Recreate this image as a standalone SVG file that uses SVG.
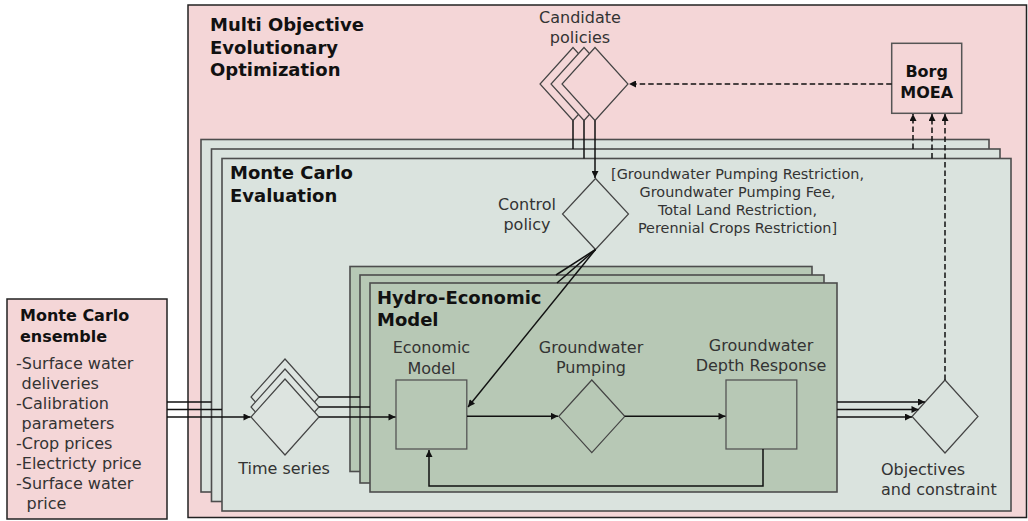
<svg xmlns="http://www.w3.org/2000/svg" width="1028" height="521" viewBox="0 0 1028 521">
<defs>
<style>
.t{font-family:"DejaVu Sans","Liberation Sans",sans-serif;font-size:16px;fill:#333}
.b{font-family:"DejaVu Sans","Liberation Sans",sans-serif;font-weight:bold;fill:#111}
.s{font-family:"DejaVu Sans","Liberation Sans",sans-serif;font-size:14.4px;fill:#333}
.pink{fill:#f4d6d7;stroke:#222;stroke-width:1.5}
.mc{fill:#dae3de;stroke:#4d4d4d;stroke-width:1.6}
.he{fill:#b7c8b5;stroke:#4d4d4d;stroke-width:1.6}
.dm{stroke:#444;stroke-width:1.2}
.ln{fill:none;stroke:#111;stroke-width:1.5}
.ds{fill:none;stroke:#111;stroke-width:1.5;stroke-dasharray:5.5,3}
</style>
<marker id="ah" viewBox="0 0 10 10" refX="10" refY="5" markerWidth="9" markerHeight="7" markerUnits="userSpaceOnUse" orient="auto">
<path d="M0,0 L10,5 L0,10 z" fill="#111"/>
</marker>
</defs>

<g id="moeo">
<rect class="pink" x="188" y="5" width="838.5" height="512.5"/>
<text class="b" font-size="18"><tspan x="210" y="31">Multi Objective</tspan><tspan x="210" y="53.5">Evolutionary</tspan><tspan x="210" y="76">Optimization</tspan></text>
</g>

<g id="ensemble">
<rect class="pink" x="7" y="299" width="160" height="220"/>
<text class="b" font-size="16"><tspan x="20" y="321">Monte Carlo</tspan><tspan x="20" y="342">ensemble</tspan></text>
<text class="t"><tspan x="16" y="369">-Surface water</tspan><tspan x="21.5" y="389">deliveries</tspan><tspan x="16" y="409">-Calibration</tspan><tspan x="21.5" y="429">parameters</tspan><tspan x="16" y="449">-Crop prices</tspan><tspan x="16" y="469">-Electricty price</tspan><tspan x="16" y="489">-Surface water</tspan><tspan x="26.5" y="509">price</tspan></text>
</g>

<g id="candidate-policies">
<path class="dm" fill="#f4d6d7" d="M573,47.5 L606,84 L573,120.5 L540,84 Z"/>
<path class="dm" fill="#f4d6d7" d="M584,47.5 L617,84 L584,120.5 L551,84 Z"/>
<path class="dm" fill="#f4d6d7" d="M595,47.5 L628,84 L595,120.5 L562,84 Z"/>
<text class="t" text-anchor="middle"><tspan x="580" y="23">Candidate</tspan><tspan x="580" y="43">policies</tspan></text>
</g>

<g id="borg">
<rect x="891.7" y="43.3" width="70" height="70" fill="#f4d6d7" stroke="#555" stroke-width="1.5"/>
<text class="b" font-size="16" text-anchor="middle"><tspan x="926.7" y="77">Borg</tspan><tspan x="926.7" y="98">MOEA</tspan></text>
</g>

<g id="mc-evaluation">
<rect class="mc" x="201" y="139.5" width="788" height="352.5"/>
<rect class="mc" x="211.5" y="149" width="788.5" height="352.5"/>
<rect class="mc" x="222" y="158.5" width="789" height="352.5"/>
<text class="b" font-size="18"><tspan x="230" y="179">Monte Carlo</tspan><tspan x="230" y="201.5">Evaluation</tspan></text>
</g>

<g id="control-policy">
<path class="dm" fill="#dae3de" d="M595.5,178.5 L628.5,214 L595.5,249.5 L562.5,214 Z"/>
<text class="t" text-anchor="middle"><tspan x="527" y="210">Control</tspan><tspan x="527" y="230">policy</tspan></text>
<text class="s" text-anchor="middle"><tspan x="737.5" y="179">[Groundwater Pumping Restriction,</tspan><tspan x="737.5" y="197">Groundwater Pumping Fee,</tspan><tspan x="737.5" y="215">Total Land Restriction,</tspan><tspan x="737.5" y="233">Perennial Crops Restriction]</tspan></text>
</g>

<g id="hydro-economic">
<rect class="he" x="350" y="266.5" width="462" height="205"/>
<rect class="he" x="360" y="275" width="464" height="208"/>
<rect class="he" x="370" y="283" width="467" height="209"/>
<text class="b" font-size="18"><tspan x="377" y="303.5">Hydro-Economic</tspan><tspan x="377" y="326">Model</tspan></text>
</g>

<g id="time-series">
<path class="dm" fill="#dde4e0" d="M285,359 L319,397 L285,435 L251,397 Z"/>
<path class="dm" fill="#dde4e0" d="M285,369 L319,407 L285,445 L251,407 Z"/>
<path class="dm" fill="#dde4e0" d="M285,379 L319,417 L285,455 L251,417 Z"/>
<text class="t" text-anchor="middle" x="284" y="474">Time series</text>
</g>

<g id="economic-model">
<rect x="396" y="380" width="70.8" height="69" fill="#b7c8b5" stroke="#555" stroke-width="1.3"/>
<text class="t" text-anchor="middle"><tspan x="431.4" y="353">Economic</tspan><tspan x="431.4" y="374">Model</tspan></text>
</g>

<g id="groundwater-pumping">
<path class="dm" fill="#b7c8b5" d="M591.8,380 L624.8,416.3 L591.8,452.6 L558.8,416.3 Z"/>
<text class="t" text-anchor="middle"><tspan x="591" y="353">Groundwater</tspan><tspan x="591" y="373">Pumping</tspan></text>
</g>

<g id="depth-response">
<rect x="726" y="380" width="70.8" height="69" fill="#b7c8b5" stroke="#555" stroke-width="1.3"/>
<text class="t" text-anchor="middle"><tspan x="761" y="351">Groundwater</tspan><tspan x="761" y="371">Depth Response</tspan></text>
</g>

<g id="objectives">
<path class="dm" fill="#dae3de" d="M945,380 L978,416.5 L945,453 L912,416.5 Z"/>
<text class="t"><tspan x="881" y="475">Objectives</tspan><tspan x="881" y="495">and constraint</tspan></text>
</g>

<g id="connectors">
<path class="ds" d="M891.7,84 L629,84" marker-end="url(#ah)"/>
<path class="ds" d="M913,149 L913,114" marker-end="url(#ah)"/>
<path class="ds" d="M932,158.5 L932,114" marker-end="url(#ah)"/>
<path class="ds" d="M945,380 L945,114" marker-end="url(#ah)"/>
<path class="ln" d="M573,120.5 L573,149"/>
<path class="ln" d="M584,120.5 L584,158.5"/>
<path class="ln" d="M595,120.5 L595,178" marker-end="url(#ah)"/>
<path class="ln" d="M595.5,249.5 L556,275"/>
<path class="ln" d="M595.5,249.5 L557,283"/>
<path class="ln" d="M595.5,249.5 L468,407" marker-end="url(#ah)"/>
<path class="ln" d="M167,402 L211.5,402"/>
<path class="ln" d="M167,409.5 L222,409.5"/>
<path class="ln" d="M167,417 L250.5,417" marker-end="url(#ah)"/>
<path class="ln" d="M319,397 L360,397"/>
<path class="ln" d="M319,407 L370,407"/>
<path class="ln" d="M319,417 L395.5,417" marker-end="url(#ah)"/>
<path class="ln" d="M467,416.3 L558,416.3" marker-end="url(#ah)"/>
<path class="ln" d="M624.8,416.3 L725.5,416.3" marker-end="url(#ah)"/>
<path class="ln" d="M763,449 L763,486 L429,486 L429,450" marker-end="url(#ah)"/>
<path class="ln" d="M837,402 L925,402" marker-end="url(#ah)"/>
<path class="ln" d="M837,409.5 L918.5,409.5" marker-end="url(#ah)"/>
<path class="ln" d="M837,417 L912,417" marker-end="url(#ah)"/>
</g>
</svg>
